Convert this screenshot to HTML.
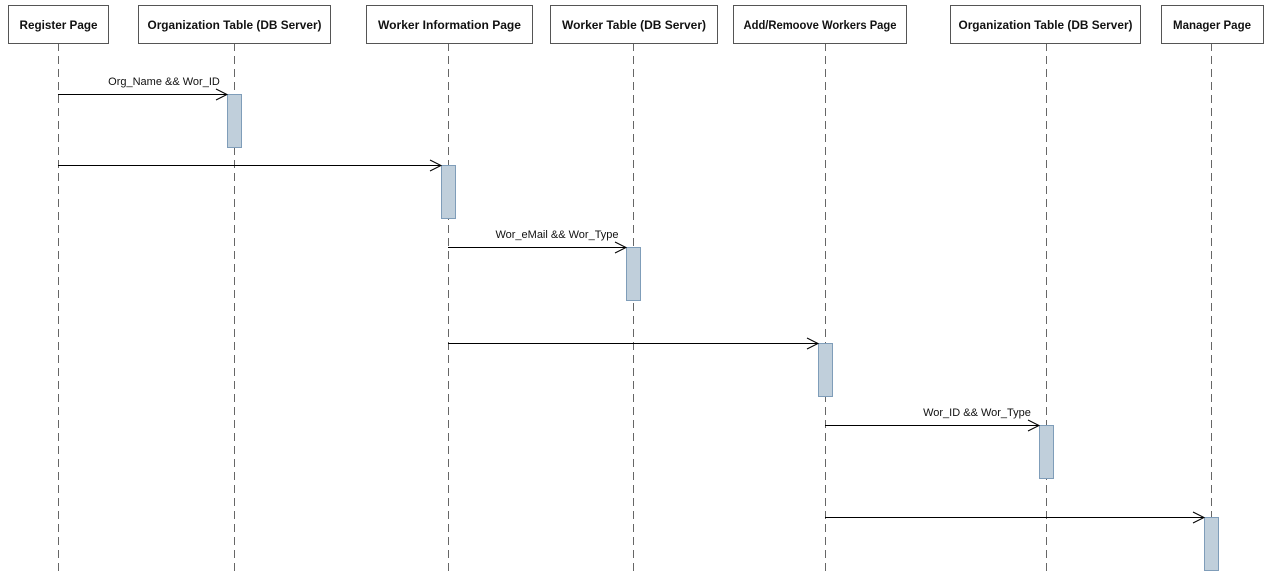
<!DOCTYPE html>
<html><head><style>body{margin:0;background:#fff}</style></head><body>
<svg width="1272" height="575" xmlns="http://www.w3.org/2000/svg" font-family="Liberation Sans, sans-serif">
<g stroke="#000" stroke-width="1" fill="none">
<g stroke="#666" stroke-dasharray="8,5">
<line x1="58.5" y1="43" x2="58.5" y2="572"/>
<line x1="234.5" y1="43" x2="234.5" y2="572"/>
<line x1="448.5" y1="43" x2="448.5" y2="572"/>
<line x1="633.5" y1="43" x2="633.5" y2="572"/>
<line x1="825.5" y1="43" x2="825.5" y2="572"/>
<line x1="1046.5" y1="43" x2="1046.5" y2="572"/>
<line x1="1211.5" y1="43" x2="1211.5" y2="572"/>
</g>
<g stroke="#555" fill="#fff">
<rect x="8.5" y="5.5" width="100" height="38"/>
<rect x="138.5" y="5.5" width="192" height="38"/>
<rect x="366.5" y="5.5" width="166" height="38"/>
<rect x="550.5" y="5.5" width="167" height="38"/>
<rect x="733.5" y="5.5" width="173" height="38"/>
<rect x="950.5" y="5.5" width="190" height="38"/>
<rect x="1161.5" y="5.5" width="102" height="38"/>
</g>
<g fill="#c0cfdb" stroke="#7f9db9">
<rect x="227.5" y="94.5" width="14" height="53"/>
<rect x="441.5" y="165.5" width="14" height="53"/>
<rect x="626.5" y="247.5" width="14" height="53"/>
<rect x="818.5" y="343.5" width="14" height="53"/>
<rect x="1039.5" y="425.5" width="14" height="53"/>
<rect x="1204.5" y="517.5" width="14" height="53"/>
</g>
<g stroke="#000">
<line x1="58" y1="94.5" x2="227" y2="94.5"/><polyline points="216,89 227,94.5 216,100"/>
<line x1="58" y1="165.5" x2="441" y2="165.5"/><polyline points="430,160 441,165.5 430,171"/>
<line x1="448" y1="247.5" x2="626" y2="247.5"/><polyline points="615,242 626,247.5 615,253"/>
<line x1="448" y1="343.5" x2="818" y2="343.5"/><polyline points="807,338 818,343.5 807,349"/>
<line x1="825" y1="425.5" x2="1039" y2="425.5"/><polyline points="1028,420 1039,425.5 1028,431"/>
<line x1="825" y1="517.5" x2="1204" y2="517.5"/><polyline points="1193,512 1204,517.5 1193,523"/>
</g>
</g>
<g font-size="11.5" font-weight="bold" text-anchor="middle" fill="#111">
<text x="58.5" y="29" textLength="78" lengthAdjust="spacingAndGlyphs">Register Page</text>
<text x="234.5" y="29" textLength="174" lengthAdjust="spacingAndGlyphs">Organization Table (DB Server)</text>
<text x="449.5" y="29" textLength="143" lengthAdjust="spacingAndGlyphs">Worker Information Page</text>
<text x="634" y="29" textLength="144" lengthAdjust="spacingAndGlyphs">Worker Table (DB Server)</text>
<text x="820" y="29" textLength="153" lengthAdjust="spacingAndGlyphs">Add/Remoove Workers Page</text>
<text x="1045.5" y="29" textLength="174" lengthAdjust="spacingAndGlyphs">Organization Table (DB Server)</text>
<text x="1212" y="29" textLength="78" lengthAdjust="spacingAndGlyphs">Manager Page</text>
</g>
<g font-size="11" text-anchor="middle" fill="#111">
<text x="164" y="85">Org_Name &amp;&amp; Wor_ID</text>
<text x="557" y="238">Wor_eMail &amp;&amp; Wor_Type</text>
<text x="977" y="416">Wor_ID &amp;&amp; Wor_Type</text>
</g>
</svg>
</body></html>
